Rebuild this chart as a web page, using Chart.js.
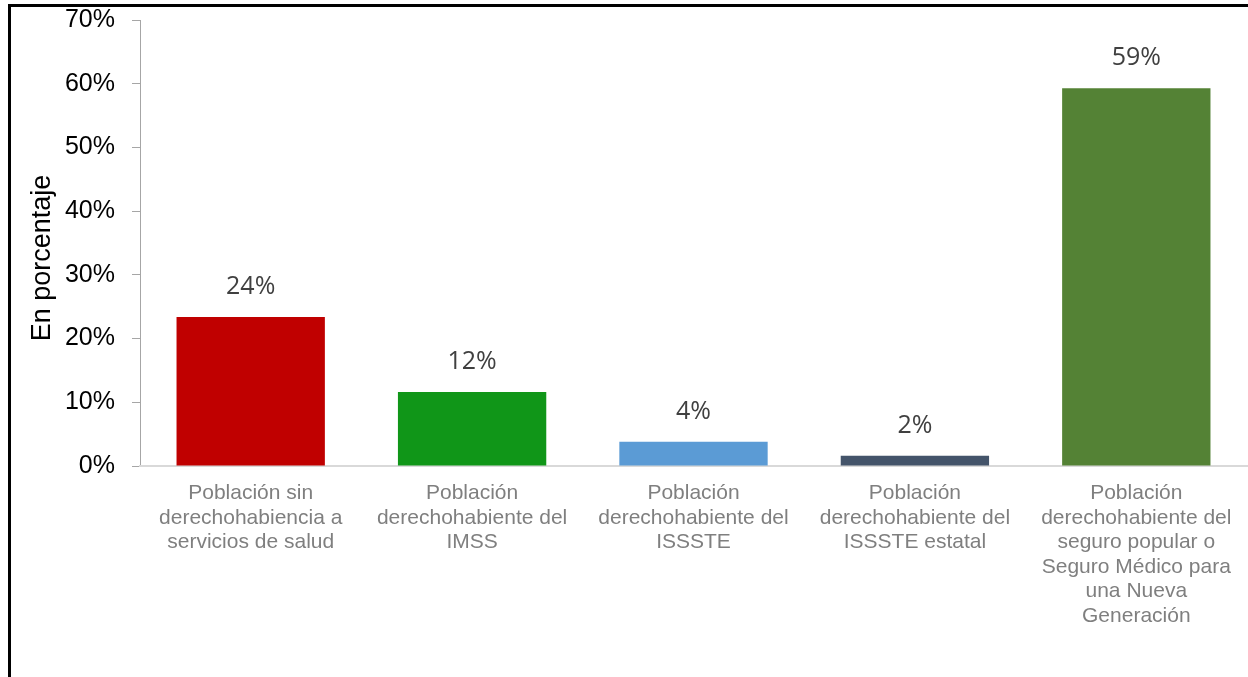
<!DOCTYPE html>
<html>
<head>
<meta charset="utf-8">
<script src="https://cdn.jsdelivr.net/npm/chart.js@4"></script>
<style>
  html, body { margin: 0; padding: 0; background: #fff; }
  #wrap { position: relative; width: 1248px; height: 677px; overflow: hidden; }
  #frame { position: absolute; left: 8px; top: 4px; right: -10px; bottom: -10px;
           border-left: 3px solid #000; border-top: 3px solid #000; }
  canvas { position: absolute; left: 0; top: 0; }
</style>
</head>
<body>
<div id="wrap">
  <div id="frame"></div>
  <canvas id="chart" width="1248" height="677"></canvas>
</div>
<script>
const categorias = [
  ["Población sin", "derechohabiencia a", "servicios de salud"],
  ["Población", "derechohabiente del", "IMSS"],
  ["Población", "derechohabiente del", "ISSSTE"],
  ["Población", "derechohabiente del", "ISSSTE estatal"],
  ["Población", "derechohabiente del", "seguro popular o", "Seguro Médico para", "una Nueva", "Generación"]
];
const valores = [23.4, 11.6, 3.8, 1.6, 59.3];
const etiquetas = ["24%", "12%", "4%", "2%", "59%"];
const colores = ["#C00000", "#109618", "#5B9BD5", "#44546A", "#548235"];
const tituloY = "En porcentaje";

// etiquetas de valor arriba de cada barra + titulo del eje Y (algo mas abajo que el centro)
const etiquetasPlugin = {
  id: "etiquetas",
  afterDatasetsDraw(chart) {
    const ctx = chart.ctx;
    const meta = chart.getDatasetMeta(0);
    ctx.save();
    ctx.font = "25px 'Open Sans', sans-serif";
    ctx.fillStyle = "#404040";
    ctx.textAlign = "center";
    ctx.textBaseline = "middle";
    meta.data.forEach((bar, i) => {
      ctx.fillText(etiquetas[i], bar.x, bar.y - 30);
    });
    ctx.restore();

    const area = chart.chartArea;
    ctx.save();
    ctx.translate(43, (area.top + area.bottom) / 2 + 15);
    ctx.rotate(-Math.PI / 2);
    ctx.font = "27px 'Liberation Sans', Arial, sans-serif";
    ctx.fillStyle = "#000";
    ctx.textAlign = "center";
    ctx.textBaseline = "middle";
    ctx.fillText(tituloY, 0, 0);
    ctx.restore();
  }
};

let ctx = document.getElementById("chart").getContext("2d");
var grafica = new Chart(ctx, {
  type: "bar",
  data: {
    labels: categorias,
    datasets: [{
      data: valores,
      backgroundColor: colores,
      borderWidth: 0,
      categoryPercentage: 1,
      barPercentage: 0.67
    }]
  },
  options: {
    responsive: false,
    animation: false,
    layout: { padding: { left: 0, top: 20, right: 1, bottom: 0 } },
    plugins: {
      legend: { display: false },
      tooltip: { enabled: false }
    },
    scales: {
      y: {
        min: 0,
        max: 70,
        afterFit(scale) {
          scale.width = 140;
          scale.paddingTop = 0;
          scale.paddingBottom = 0;
        },
        ticks: {
          stepSize: 10,
          padding: 17,
          color: "#000",
          font: { family: "'Liberation Sans', Arial, sans-serif", size: 25 },
          callback: v => v + "%"
        },
        grid: { drawOnChartArea: false, tickLength: 8, color: "#a6a6a6" },
        border: { color: "#a6a6a6" }
      },
      x: {
        afterFit(scale) { scale.height = 211; },
        ticks: {
          padding: 7,
          maxRotation: 0,
          autoSkip: false,
          color: "#7f7f7f",
          font: { family: "'Liberation Sans', Arial, sans-serif", size: 21, lineHeight: 1.17 }
        },
        grid: { display: false },
        border: { color: "#d9d9d9", width: 2 }
      }
    }
  },
  plugins: [etiquetasPlugin]
});
</script>
</body>
</html>
